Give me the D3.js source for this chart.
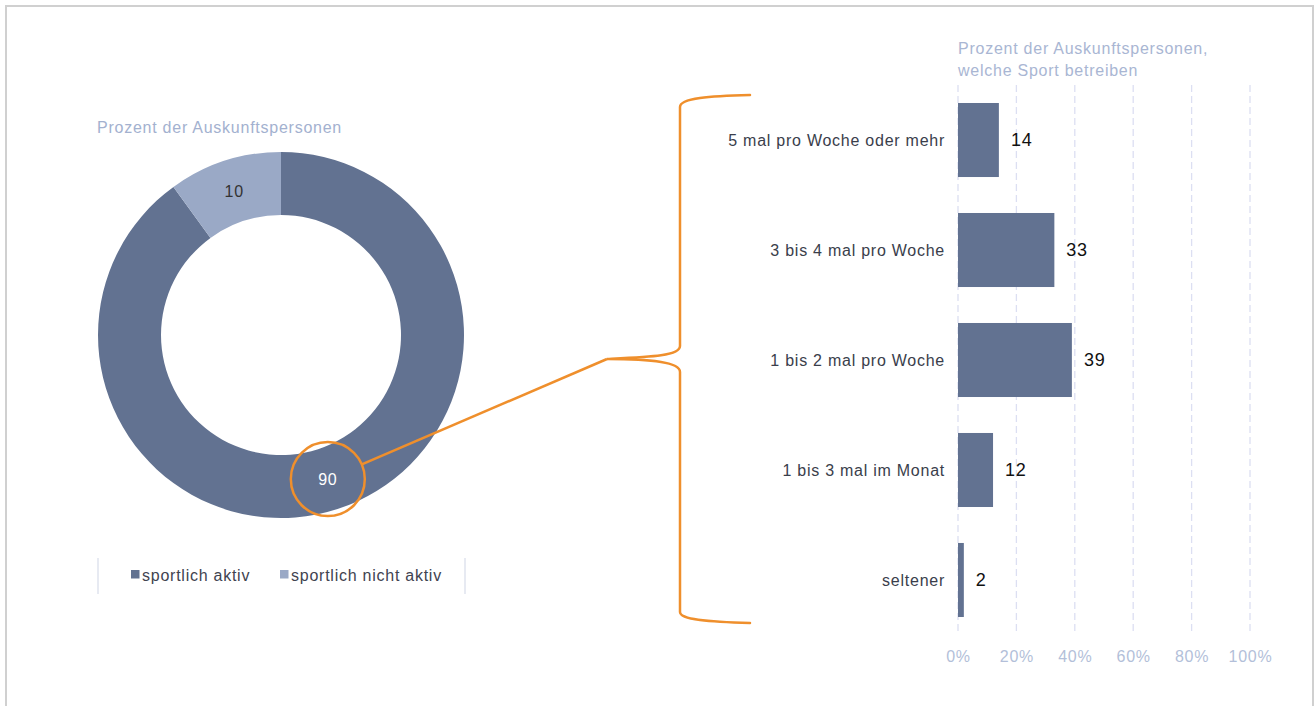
<!DOCTYPE html>
<html><head><meta charset="utf-8">
<script src="https://cdn.jsdelivr.net/npm/d3@7"></script>
<style>
html,body{margin:0;padding:0;background:#fff;}
svg{display:block;font-family:"Liberation Sans",Arial,sans-serif;}
text{letter-spacing:0.75px;}
</style></head>
<body>
<script>
// ---- data ----
const pieCategories = ["sportlich aktiv", "sportlich nicht aktiv"];
const pieValues = [90, 10];
const barCategories = ["5 mal pro Woche oder mehr", "3 bis 4 mal pro Woche", "1 bis 2 mal pro Woche", "1 bis 3 mal im Monat", "seltener"];
const barValues = [14, 33, 39, 12, 2];
const xTicks = [0, 20, 40, 60, 80, 100];
const pieTitle = "Prozent der Auskunftspersonen";
const barTitle = ["Prozent der Auskunftspersonen,", "welche Sport betreiben"];

const W = 1315, H = 706;
const dark = "#627291", light = "#9aa9c6", orange = "#ef8f2c";
const svg = d3.select("body").append("svg").attr("width", W).attr("height", H);

// frame
svg.append("path").attr("d", `M6,${H} L6,6 L1313,6 L1313,${H}`)
  .attr("fill", "none").attr("stroke", "#d0d0d0").attr("stroke-width", 2);

// ---- donut ----
const cx = 281, cy = 335, rOut = 183, rIn = 120;
const pie = d3.pie().sort(null).value(d => d)(pieValues);
const arc = d3.arc().innerRadius(rIn).outerRadius(rOut);
const colors = d3.scaleOrdinal().domain(pieCategories).range([dark, light]);
const g = svg.append("g").attr("transform", `translate(${cx},${cy})`);
g.selectAll("path.slice").data(pie).join("path").attr("class", "slice")
  .attr("d", arc).attr("fill", (d, i) => colors(pieCategories[i]));
g.selectAll("text.lab").data(pie).join("text").attr("class", "lab")
  .attr("transform", d => `translate(${arc.centroid(d)})`)
  .attr("text-anchor", "middle").attr("dy", "0.35em")
  .attr("font-size", 16)
  .attr("fill", (d, i) => i === 0 ? "#ffffff" : "#333333")
  .text(d => d.data);

svg.append("text").attr("x", 97).attr("y", 133).attr("font-size", 16)
  .attr("fill", "#a3b1cf").text(pieTitle);

// legend
svg.append("line").attr("x1", 98).attr("x2", 98).attr("y1", 558).attr("y2", 594).attr("stroke", "#dfe3ee").attr("stroke-width", 1.5);
svg.append("line").attr("x1", 465).attr("x2", 465).attr("y1", 558).attr("y2", 594).attr("stroke", "#dfe3ee").attr("stroke-width", 1.5);
const legX = [131, 280];
pieCategories.forEach((c, i) => {
  svg.append("rect").attr("x", legX[i]).attr("y", 570).attr("width", 8.5).attr("height", 8.5).attr("fill", colors(c));
  svg.append("text").attr("x", legX[i] + 11).attr("y", 581).attr("font-size", 16).attr("fill", "#3f4350").text(c);
});

// highlight circle on the 90 label
const c90 = arc.centroid(pie[0]);
const hx = cx + c90[0], hy = cy + c90[1];
svg.append("circle").attr("cx", hx).attr("cy", hy).attr("r", 37)
  .attr("fill", "none").attr("stroke", orange).attr("stroke-width", 2.5);

// connector + brace
const tipX = 607, tipY = 359;
const ang = Math.atan2(tipY - hy, tipX - hx);
svg.append("line").attr("x1", hx + 37 * Math.cos(ang)).attr("y1", hy + 37 * Math.sin(ang))
  .attr("x2", tipX).attr("y2", tipY).attr("stroke", orange).attr("stroke-width", 2.5);
const braceX = 680;
svg.append("path").attr("d",
  `M750,95 C710,96 680,98 ${braceX},107 L${braceX},346 C${braceX},356 650,357 ${tipX},${tipY}` +
  ` C650,359 ${braceX},362 ${braceX},372 L${braceX},612 C${braceX},620 710,622 750,623`)
  .attr("fill", "none").attr("stroke", orange).attr("stroke-width", 2.5).attr("stroke-linecap", "round");

// ---- bars ----
const x = d3.scaleLinear().domain([0, 100]).range([958, 1250]);
const y = d3.scaleBand().domain(barCategories).range([85, 635]).paddingInner(0.327).paddingOuter(0.1636);

svg.append("g").selectAll("line").data(xTicks).join("line")
  .attr("x1", d => x(d)).attr("x2", d => x(d)).attr("y1", 85).attr("y2", 635)
  .attr("stroke", "#dcdff2").attr("stroke-width", 1.3).attr("stroke-dasharray", "7,4");

const xAxis = svg.append("g").attr("transform", "translate(0,635)")
  .call(d3.axisBottom(x).tickValues(xTicks).tickFormat(d => d + "%").tickSize(0).tickPadding(16));
xAxis.select(".domain").remove();
xAxis.selectAll("text").attr("font-size", 16).attr("fill", "#b3bfd9").attr("font-family", "Liberation Sans, Arial, sans-serif");

svg.append("g").selectAll("rect").data(barValues).join("rect")
  .attr("x", x(0)).attr("y", (d, i) => y(barCategories[i]))
  .attr("width", d => x(d) - x(0)).attr("height", y.bandwidth()).attr("fill", dark);

svg.append("g").selectAll("text").data(barValues).join("text")
  .attr("x", d => x(d) + 12).attr("y", (d, i) => y(barCategories[i]) + y.bandwidth() / 2)
  .attr("dy", "0.35em").attr("font-size", 18).attr("fill", "#111").text(d => d);

svg.append("g").selectAll("text").data(barCategories).join("text")
  .attr("x", 945).attr("y", d => y(d) + y.bandwidth() / 2).attr("dy", "0.35em")
  .attr("text-anchor", "end").attr("font-size", 16).attr("fill", "#3a3e4b").text(d => d);

barTitle.forEach((t, i) => {
  svg.append("text").attr("x", 958).attr("y", 54 + i * 22).attr("font-size", 16)
    .attr("fill", "#a9b6d3").text(t);
});
</script>
</body></html>
